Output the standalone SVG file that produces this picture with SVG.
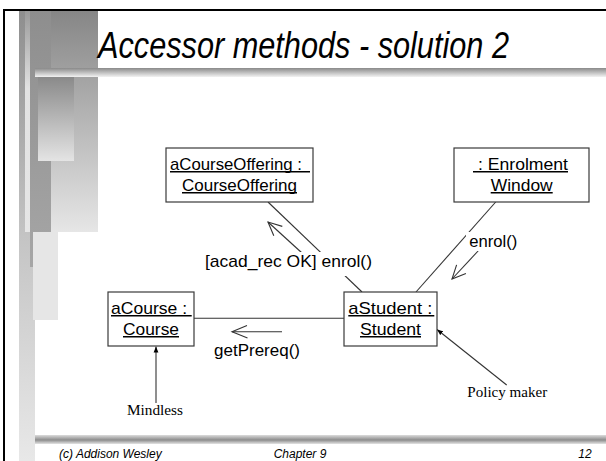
<svg xmlns="http://www.w3.org/2000/svg" width="606" height="461" viewBox="0 0 606 461">
  <defs>
    <linearGradient id="gStrip" x1="0" y1="0" x2="0" y2="1">
      <stop offset="0" stop-color="#8e8e8e"/>
      <stop offset="0.5" stop-color="#c4c4c4"/>
      <stop offset="1" stop-color="#e8e8e8"/>
    </linearGradient>
    <linearGradient id="gPanel" x1="0" y1="0" x2="0" y2="1">
      <stop offset="0" stop-color="#868686"/>
      <stop offset="1" stop-color="#e6e6e6"/>
    </linearGradient>
    <linearGradient id="gNarrow" x1="0" y1="0" x2="0" y2="1">
      <stop offset="0" stop-color="#9a9a9a"/>
      <stop offset="0.35" stop-color="#e2e2e2"/>
      <stop offset="1" stop-color="#e6e6e6"/>
    </linearGradient>
    <linearGradient id="gBar" x1="0" y1="0" x2="0" y2="1">
      <stop offset="0" stop-color="#8e8e8e"/>
      <stop offset="1" stop-color="#a6a6a6"/>
    </linearGradient>
    <linearGradient id="gBlock" x1="0" y1="0" x2="0" y2="1">
      <stop offset="0" stop-color="#8a8a8a"/>
      <stop offset="1" stop-color="#e4e4e4"/>
    </linearGradient>
    <linearGradient id="gRuleTop" x1="0" y1="0" x2="0" y2="1">
      <stop offset="0" stop-color="#8a8a8a"/>
      <stop offset="1" stop-color="#f2f2f2"/>
    </linearGradient>
    <linearGradient id="gRuleFoot" x1="0" y1="0" x2="0" y2="1">
      <stop offset="0" stop-color="#dcdcdc"/>
      <stop offset="0.55" stop-color="#8c8c8c"/>
      <stop offset="1" stop-color="#e4e4e4"/>
    </linearGradient>
    <marker id="tip" viewBox="0 0 6 6" refX="6" refY="3" markerWidth="6" markerHeight="6" markerUnits="userSpaceOnUse" orient="auto">
      <path d="M0,0.6 L6,3 L0,5.4 z" fill="#000"/>
    </marker>
  </defs>
  <style>
    .obj { fill: #ffffff; stroke: #3a3a3a; stroke-width: 1.2; }
    .lbl { font-family: "Liberation Sans", Arial, sans-serif; font-size: 17px; fill: #000; }
    .ul { stroke: #000; stroke-width: 1.6; }
    .conn { stroke: #333; stroke-width: 1.1; fill: none; }
    .note { font-family: "Liberation Serif", "Times New Roman", serif; font-size: 15.4px; fill: #000; }
    .foot { font-family: "Liberation Sans", Arial, sans-serif; font-style: italic; font-size: 12px; fill: #000; }
    .title { font-family: "Liberation Sans", Arial, sans-serif; font-style: italic; font-size: 36px; fill: #000; }
  </style>

  <!-- slide background -->
  <rect x="0" y="0" width="606" height="461" fill="#ffffff"/>

  <!-- left-hand decorative bars and rules -->
  <g id="decor">
    <rect x="19" y="11" width="16" height="450" fill="url(#gStrip)"/>
    <rect x="25" y="11" width="73" height="221" fill="url(#gPanel)"/>
    <rect x="25" y="11" width="5" height="221" fill="url(#gNarrow)"/>
    <rect x="30" y="11" width="21" height="256" fill="url(#gBar)"/>
    <rect x="38" y="77" width="36" height="84" fill="url(#gBlock)"/>
    <rect x="33" y="232" width="25" height="88" fill="#e6e6e6"/>
    <rect x="35" y="68" width="571" height="9" fill="url(#gRuleTop)"/>
    <rect x="35" y="435" width="571" height="9" fill="url(#gRuleFoot)"/>
  </g>
  <!-- slide frame -->
  <rect x="4" y="10" width="640" height="500" fill="none" stroke="#000" stroke-width="2"/>

  <!-- title area -->
  <rect x="98" y="11" width="508" height="57" fill="#ffffff"/>
  <text class="title" x="98" y="57.5" textLength="411" lengthAdjust="spacingAndGlyphs">Accessor methods - solution 2</text>

  <!-- links, messages and notes -->
  <g id="connectors">
    <line class="conn" x1="268" y1="202" x2="362" y2="292"/>
    <line class="conn" x1="495.7" y1="202" x2="416" y2="292"/>
    <line class="conn" x1="194" y1="318.3" x2="344" y2="318.3"/>

    <!-- message arrows -->
    <line class="conn" x1="302" y1="253" x2="268" y2="222"/>
    <path class="conn" d="M282.3,226.4 L268,222 L273.8,235.8"/>
    <line class="conn" x1="479" y1="250" x2="452" y2="279"/>
    <path class="conn" d="M456.6,264.8 L452,279 L465.9,273.4"/>
    <line class="conn" x1="282" y1="331.7" x2="232" y2="331.7"/>
    <path class="conn" d="M247,325.5 L232,331.7 L247.5,338"/>

    <!-- note pointers -->
    <line class="conn" x1="156" y1="403" x2="156" y2="346.5" marker-end="url(#tip)"/>
    <line class="conn" x1="506.7" y1="385" x2="437" y2="329.5" marker-end="url(#tip)"/>

    <!-- message labels -->
    <rect x="203" y="252" width="171" height="24" fill="#ffffff"/>
    <text class="lbl" x="205" y="266.5" textLength="167" lengthAdjust="spacingAndGlyphs">[acad_rec OK] enrol()</text>
    <rect x="466" y="232" width="54" height="19" fill="#ffffff"/>
    <text class="lbl" x="469.3" y="247" textLength="48" lengthAdjust="spacingAndGlyphs">enrol()</text>
    <text class="lbl" x="214" y="356" textLength="86" lengthAdjust="spacingAndGlyphs">getPrereq()</text>
  </g>

  <g id="aCourseOffering">
    <rect class="obj" x="166" y="148" width="147" height="54"/>
    <text class="lbl" x="170" y="169.5" textLength="132" lengthAdjust="spacingAndGlyphs">aCourseOffering :</text>
    <line class="ul" x1="170" y1="171.8" x2="310" y2="171.8"/>
    <text class="lbl" x="182" y="190.5" textLength="115" lengthAdjust="spacingAndGlyphs">CourseOffering</text>
    <line class="ul" x1="182" y1="192.8" x2="297" y2="192.8"/>
  </g>

  <g id="enrolmentWindow">
    <rect class="obj" x="454" y="148" width="135" height="54"/>
    <text class="lbl" x="478" y="169.5" textLength="90" lengthAdjust="spacingAndGlyphs">: Enrolment</text>
    <line class="ul" x1="473" y1="171.8" x2="568" y2="171.8"/>
    <text class="lbl" x="490.7" y="190.5" textLength="62" lengthAdjust="spacingAndGlyphs">Window</text>
    <line class="ul" x1="490.7" y1="192.8" x2="552.7" y2="192.8"/>
  </g>

  <g id="aCourse">
    <rect class="obj" x="108" y="292" width="86" height="54"/>
    <text class="lbl" x="111" y="313.5" textLength="76" lengthAdjust="spacingAndGlyphs">aCourse :</text>
    <line class="ul" x1="111" y1="315.8" x2="191.7" y2="315.8"/>
    <text class="lbl" x="123" y="334.5" textLength="56" lengthAdjust="spacingAndGlyphs">Course</text>
    <line class="ul" x1="123" y1="336.8" x2="179" y2="336.8"/>
  </g>

  <g id="aStudent">
    <rect class="obj" x="344" y="292" width="93" height="54"/>
    <text class="lbl" x="348.3" y="313.5" textLength="84" lengthAdjust="spacingAndGlyphs">aStudent :</text>
    <line class="ul" x1="348.3" y1="315.8" x2="434.3" y2="315.8"/>
    <text class="lbl" x="360" y="334.5" textLength="61" lengthAdjust="spacingAndGlyphs">Student</text>
    <line class="ul" x1="360" y1="336.8" x2="421" y2="336.8"/>
  </g>

  <g id="noteMindless">
    <text class="note" x="127" y="414.5" textLength="56" lengthAdjust="spacingAndGlyphs">Mindless</text>
  </g>
  <g id="notePolicyMaker">
    <text class="note" x="467.3" y="397.3" textLength="80" lengthAdjust="spacingAndGlyphs">Policy maker</text>
  </g>

  <!-- footer -->
  <text class="foot" x="59" y="457.5">(c) Addison Wesley</text>
  <text class="foot" x="300" y="457.5" text-anchor="middle">Chapter 9</text>
  <text class="foot" x="591.7" y="457.5" text-anchor="end">12</text>
</svg>
